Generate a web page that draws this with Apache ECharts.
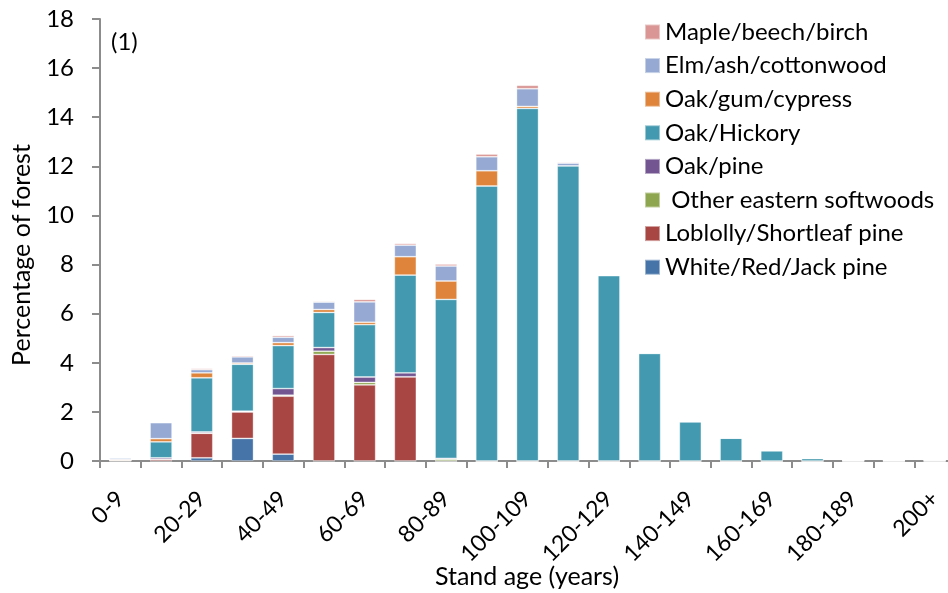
<!DOCTYPE html>
<html>
<head>
<meta charset="utf-8">
<script src="https://cdn.jsdelivr.net/npm/echarts@6/dist/echarts.min.js"></script>
<style>html,body{margin:0;padding:0;background:#fff}#c{width:948px;height:593px}</style>
</head>
<body>
<div id="c"></div>
<script>
const categories = ['0-9','10-19','20-29','30-39','40-49','50-59','60-69','70-79','80-89','90-99','100-109','110-119','120-129','130-139','140-149','150-159','160-169','170-179','180-189','190-199','200+'];
const yTicks = [0,2,4,6,8,10,12,14,16,18];
const whiteRedJack   = [0,0,0.13,0.92,0.28,0,0,0,0,0,0,0,0,0,0,0,0,0,0,0,0];
const loblolly       = [0.02,0.07,1.0,1.08,2.36,4.34,3.1,3.43,0,0,0,0,0,0,0,0,0,0,0,0,0];
const otherEastern   = [0,0,0,0,0.04,0.13,0.1,0,0.07,0,0,0,0,0,0,0,0,0,0,0,0];
const oakPine        = [0,0.06,0.05,0.03,0.27,0.15,0.22,0.16,0.04,0,0,0,0,0,0,0,0,0,0,0,0];
const oakHickory     = [0,0.65,2.21,1.91,1.75,1.43,2.13,3.98,6.47,11.2,14.36,12.02,7.55,4.38,1.6,0.93,0.42,0.1,0.02,0.02,0.03];
const oakGumCypress  = [0.04,0.13,0.2,0.05,0.12,0.12,0.1,0.75,0.75,0.62,0.08,0,0,0,0,0,0,0,0,0,0];
const elmAsh         = [0.06,0.65,0.13,0.25,0.22,0.30,0.83,0.47,0.61,0.57,0.72,0.11,0.03,0.03,0,0,0,0,0,0,0];
const mapleBeech     = [0.01,0.02,0.05,0.05,0.07,0.04,0.1,0.07,0.08,0.11,0.14,0.04,0.03,0.02,0,0,0,0,0,0,0];

const seriesDefs = [
  ['White/Red/Jack pine', whiteRedJack, '#4674A8'],
  ['Loblolly/Shortleaf pine', loblolly, '#A84644'],
  [' Other eastern softwoods', otherEastern, '#8EA64F'],
  ['Oak/pine', oakPine, '#725591'],
  ['Oak/Hickory', oakHickory, '#4299B0'],
  ['Oak/gum/cypress', oakGumCypress, '#DE843B'],
  ['Elm/ash/cottonwood', elmAsh, '#95A9D3'],
  ['Maple/beech/birch', mapleBeech, '#D99694']
];
const FONT = 'Lato';
const chart = echarts.init(document.getElementById('c'), null, {renderer:'canvas'});
chart.setOption({
  animation:false,
  textStyle:{fontFamily:FONT},
  grid:{left:100, top:19, bottom:132, width:855, containLabel:false, outerBoundsMode:'none'},
  legend:{
    orient:'vertical', left:639, top:15, itemWidth:15, itemHeight:15, itemGap:9.6,
    icon:'rect',
    textStyle:{fontFamily:FONT, fontSize:24, color:'#000', lineHeight:24},
    data: seriesDefs.map(s=>s[0]).slice().reverse()
  },
  graphic:[
    {type:'text', left:111, top:30, style:{text:'(1)', fontFamily:FONT, fontSize:24, fill:'#000'}},
    {type:'text', x:22, y:255, rotation:Math.PI/2,
     style:{text:'Percentage of forest', fontFamily:FONT, fontSize:25, fill:'#000', align:'center', verticalAlign:'middle'}},
    {type:'text', x:527, y:577,
     style:{text:'Stand age (years)', fontFamily:FONT, fontSize:25, fill:'#000', align:'center', verticalAlign:'middle'}}
  ],
  xAxis:{
    type:'category', data:categories, boundaryGap:true,
    axisLine:{lineStyle:{color:'#8c8c8c', width:2}},
    axisTick:{show:true, interval:0, length:7, lineStyle:{color:'#8c8c8c', width:2}},
    axisLabel:{interval:1, rotate:45, fontFamily:FONT, fontSize:23, color:'#000', margin:34}
  },
  yAxis:{
    type:'value', min:yTicks[0], max:yTicks[yTicks.length-1], interval:2,
    axisLine:{show:true, lineStyle:{color:'#8c8c8c', width:2}},
    axisTick:{show:true, length:8, lineStyle:{color:'#8c8c8c', width:2}},
    axisLabel:{fontFamily:FONT, fontSize:24, color:'#000', margin:26},
    splitLine:{show:false}
  },
  series: seriesDefs.map(s=>({
    name:s[0], type:'bar', stack:'total', data:s[1], barWidth:22,
    itemStyle:{color:s[2], borderColor:'rgba(255,255,255,0.45)', borderWidth:0.8}
  }))
});
</script>
</body>
</html>
